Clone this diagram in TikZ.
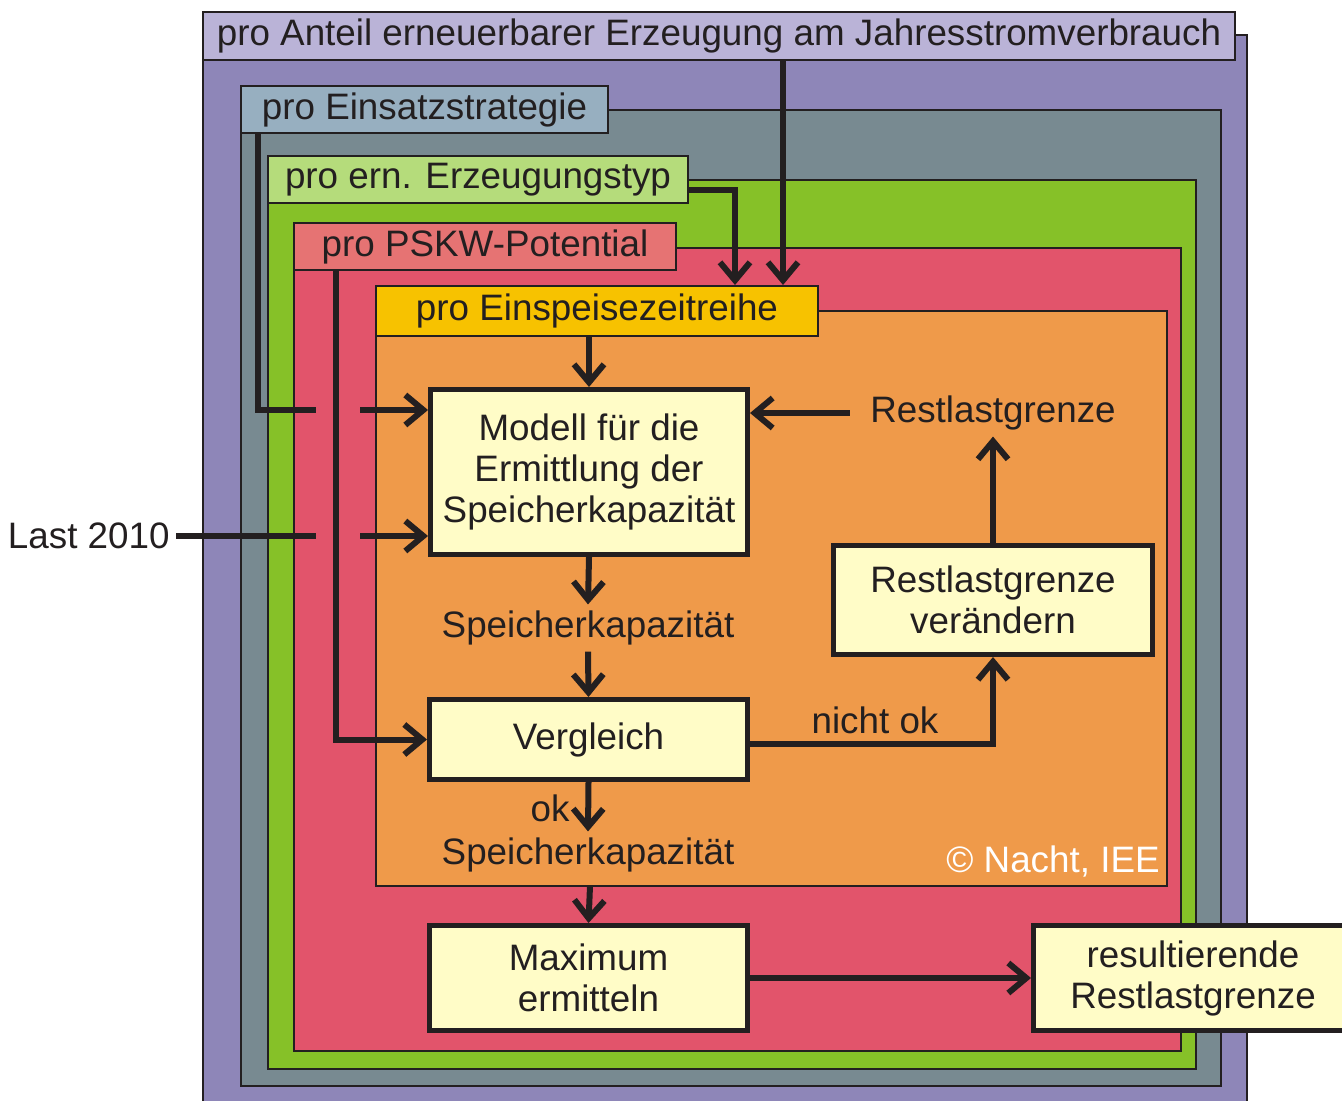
\documentclass[tikz,border=0pt]{standalone}
\usepackage{fontspec}
\setmainfont{Liberation Sans}
\usepackage{tikz}
\usetikzlibrary{arrows.meta, calc}
\definecolor{linecol}{HTML}{231F20}
\definecolor{frPurple}{HTML}{8E86B8}
\definecolor{lbPurple}{HTML}{BAB3D7}
\definecolor{frGray}{HTML}{788A91}
\definecolor{lbGray}{HTML}{97AFC0}
\definecolor{frGreen}{HTML}{86C128}
\definecolor{lbGreen}{HTML}{B5DC7B}
\definecolor{frRed}{HTML}{E2546B}
\definecolor{lbRed}{HTML}{E67373}
\definecolor{frOrange}{HTML}{EF9A4A}
\definecolor{lbOrange}{HTML}{F7C200}
\definecolor{cream}{HTML}{FFFCC7}
\newcommand{\diafont}{\fontsize{18.4}{20.5}\selectfont}
\tikzset{
  framebox/.style = {draw=linecol, line width=1pt},
  labelbox/.style = {draw=linecol, line width=1pt, font=\diafont,
                     text=linecol, inner sep=0pt, minimum height=23.5pt},
  stepbox/.style  = {draw=linecol, line width=2.5pt, fill=cream,
                     font=\diafont, text=linecol, align=center,
                     inner sep=0pt},
  txt/.style      = {font=\diafont, text=linecol, inner sep=3pt},
  plain/.style    = {line width=3pt, linecol},
  flow/.style     = {-{Straight Barb[length=9pt, width=15pt]},
                     line width=3pt, linecol},
}

\begin{document}
\begin{tikzpicture}[x=0.5pt, y=-0.5pt, line join=miter]
    \useasboundingbox (0,0) rectangle (1342,1101);

    % --- nested frames, outside in ------------------------------------------
    \draw[framebox, fill=frPurple] (203,35) rectangle (1247,1120);
    \node[labelbox, fill=lbPurple, minimum width=516pt, minimum height=24pt]
      (lbAnteil) at (719,36)
      {pro Anteil erneuerbarer Erzeugung am Jahresstromverbrauch};

    \draw[framebox, fill=frGray] (241,110) rectangle (1221,1086);
    \node[labelbox, fill=lbGray, minimum width=183.5pt] (lbEinsatz)
      at (424.5,109.5) {pro Einsatzstrategie};

    \draw[framebox, fill=frGreen] (268,180) rectangle (1196,1069);
    \node[labelbox, fill=lbGreen, minimum width=210pt] (lbErz)
      at (478,179.5) {pro ern. Erzeugungstyp};

    \draw[framebox, fill=frRed] (294,248) rectangle (1181,1051);
    \node[labelbox, fill=lbRed, minimum width=191pt] (lbPskw)
      at (485,246.5) {pro PSKW-Potential};

    \draw[framebox, fill=frOrange] (376,311) rectangle (1167,886);
    \node[labelbox, fill=lbOrange, minimum width=221pt, minimum height=25pt]
      (lbEinsp) at (597,311) {pro Einspeisezeitreihe};

    \node[font=\diafont, text=white, anchor=east, inner sep=0pt] (copy)
      at (1160,862) {© Nacht, IEE};

    % --- steps ---------------------------------------------------------------
    \node[stepbox, minimum width=158.5pt, minimum height=82.5pt] (modell)
      at (589,472) {Modell für die\\Ermittlung der\\Speicherkapazität};
    \node[stepbox, minimum width=159.5pt, minimum height=54.5pt] (veraendern)
      at (993,600) {Restlastgrenze\\verändern};
    \node[stepbox, minimum width=159pt, minimum height=40pt] (vergleich)
      at (588.5,739.5) {Vergleich};
    \node[stepbox, minimum width=159pt, minimum height=52.5pt] (maximum)
      at (588.5,978) {Maximum\\ermitteln};
    \node[stepbox, minimum width=159.5pt, minimum height=52.5pt] (result)
      at (1193,978) {resultierende\\Restlastgrenze};

    % --- free texts ----------------------------------------------------------
    \node[txt] (sk1) at (588,628) {Speicherkapazität};
    \node[txt] (sk2) at (588,855) {Speicherkapazität};
    \node[txt] (ok) at (550,808) {ok};
    \node[txt] (nichtok) at (875,720) {nicht ok};
    \node[txt, inner xsep=10pt] (rl) at (993,413) {Restlastgrenze};
    \node[txt, anchor=east] (last) at (176,536) {Last 2010};

    % --- helper coordinates --------------------------------------------------
    \coordinate (einsatzX) at (258,0);
    \coordinate (pskwX) at (336,0);
    \coordinate (erzX) at (735,0);
    \coordinate (erzY) at (0,190);
    \coordinate (jahrX) at (783,0);
    \coordinate (gapAin) at (316,410);
    \coordinate (gapAout) at (360,410);
    \coordinate (gapBin) at (316,536);
    \coordinate (gapBout) at (360,536);
    \coordinate (orangeBot) at (590,886);
    \coordinate (okY) at (0,744);

    % --- connectors ----------------------------------------------------------
    \draw[flow] (lbAnteil.south -| jahrX) -- (lbEinsp.north -| jahrX);
    \draw[flow] (lbErz.east |- erzY) -| (lbEinsp.north -| erzX);
    \draw[plain] (lbEinsatz.south -| einsatzX) |- (gapAin);
    \draw[flow] (gapAout) -- (modell.west |- gapAout);
    \draw[plain] (last.east) -- (gapBin);
    \draw[flow] (gapBout) -- (modell.west |- gapBout);
    \draw[flow] (lbPskw.south -| pskwX) |- (vergleich.west);

    \draw[flow] (lbEinsp.south -| modell.north) -- (modell.north);
    \draw[flow] (modell.south) -- (sk1.north);
    \draw[flow] (sk1.south) -- (vergleich.north);
    \draw[flow] (vergleich.south) -- (sk2.north);
    \draw[flow] (orangeBot) -- (maximum.north);
    \draw[flow] (vergleich.east |- okY) -| (veraendern.south);
    \draw[flow] (veraendern.north) -- (rl.south);
    \draw[flow] (rl.west) -- (modell.east |- rl.west);
    \draw[flow] (maximum.east) -- (result.west);

\end{tikzpicture}
\end{document}
